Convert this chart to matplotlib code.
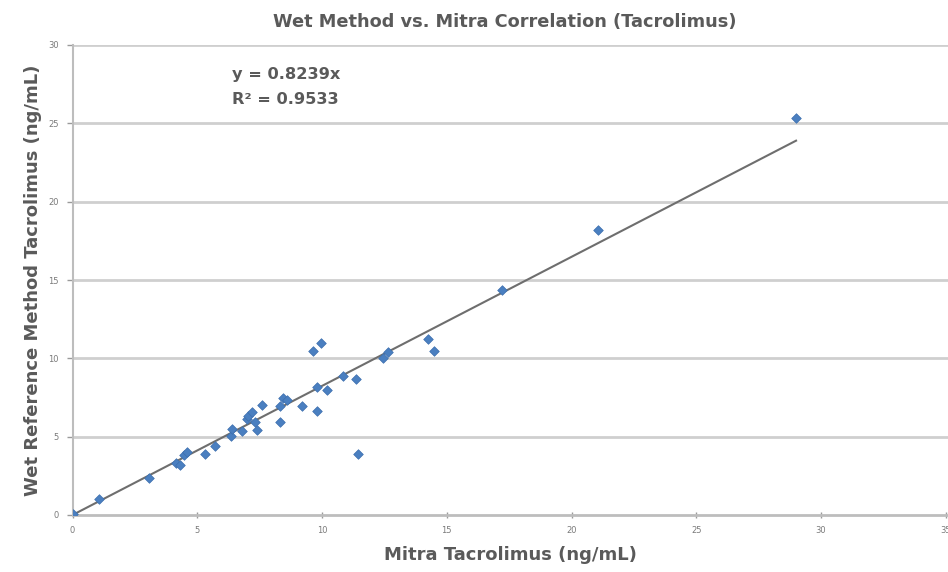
import matplotlib
matplotlib.use("Agg")
import matplotlib.pyplot as plt
import numpy as np

plt.rcParams['font.family'] = ['DejaVu Sans']

mitra = [0, 1.05, 3.05, 4.15, 4.3, 4.45, 4.6, 5.3, 5.7, 6.35, 6.4, 6.8, 7.0, 7.05,
         7.2, 7.3, 7.4, 7.6, 8.3, 8.3, 8.45, 8.6, 9.2, 9.65, 9.95, 9.8, 9.8, 10.2,
         10.85, 11.35, 11.45, 12.45, 12.65, 14.25, 14.5, 17.2, 21.05, 29.0]
wet = [0.05, 1.0, 2.35, 3.35, 3.2, 3.85, 4.0, 3.9, 4.4, 5.05, 5.5, 5.35, 6.1, 6.3,
       6.6, 5.95, 5.4, 7.05, 5.95, 6.95, 7.45, 7.35, 6.95, 10.5, 10.95, 8.2, 6.65, 8.0,
       8.85, 8.7, 3.9, 10.05, 10.4, 11.25, 10.45, 14.35, 18.2, 25.35]
slope = 0.8239
r2 = 0.9533
x_ticks = [0, 5, 10, 15, 20, 25, 30, 35]
y_ticks = [0, 5, 10, 15, 20, 25, 30]

W, H = 948, 572
fig = plt.figure(figsize=(W / 100, H / 100), dpi=100)
left, right, top, bottom = 72.5, 948, 45, 515
ax = fig.add_axes([left / W, (H - bottom) / H, (right - left) / W, (bottom - top) / H])

ax.set_xlim(0, 35.09)
ax.set_ylim(0, 30)

grey = '#5a5a5a'
grid_c = '#cfcfcf'

for yv in y_ticks[1:]:
    ax.axhline(yv, color=grid_c, lw=2.0, zorder=1)

xs = np.array([0, max(mitra)])
ax.plot(xs, slope * xs, color='#6e6e6e', lw=1.5, zorder=2)
ax.scatter(mitra, wet, marker='D', s=24, color='#4a7fc0', edgecolors='#3d6fae',
           linewidths=0.5, zorder=3)

for s in ['top', 'right']:
    ax.spines[s].set_visible(False)
ax.spines['left'].set_color('#bdbdbd')
ax.spines['left'].set_linewidth(1.5)
ax.spines['bottom'].set_color('#bdbdbd')
ax.spines['bottom'].set_linewidth(2.0)

ax.set_xticks(x_ticks)
ax.set_yticks(y_ticks)
ax.set_xticklabels([str(v) for v in x_ticks])
ax.set_yticklabels([str(v) for v in y_ticks])
ax.tick_params(axis='both', labelsize=6, colors='#9a9a9a', labelcolor='#7a7a7a',
               length=4, width=1)
ax.tick_params(axis='x', direction='inout', pad=6)
ax.tick_params(axis='y', direction='out', pad=6)

ax.set_xlabel('Mitra Tacrolimus (ng/mL)', fontsize=13, fontweight='bold', color=grey, labelpad=8)
ax.set_ylabel('Wet Reference Method Tacrolimus (ng/mL)', fontsize=13, fontweight='bold',
              color=grey, labelpad=4)
fig.text(505 / W, 1 - 22 / H, 'Wet Method vs. Mitra Correlation (Tacrolimus)',
         ha='center', va='center', fontsize=12.8, fontweight='bold', color=grey)

ax.text(232 / W, 1 - 75 / H, f'y = {slope}x', transform=fig.transFigure,
        ha='left', va='center', fontsize=11.7, fontweight='bold', color=grey)
ax.text(232 / W, 1 - 100 / H, f'R² = {r2}', transform=fig.transFigure,
        ha='left', va='center', fontsize=11.7, fontweight='bold', color=grey)

fig.savefig('out.png', dpi=100)
